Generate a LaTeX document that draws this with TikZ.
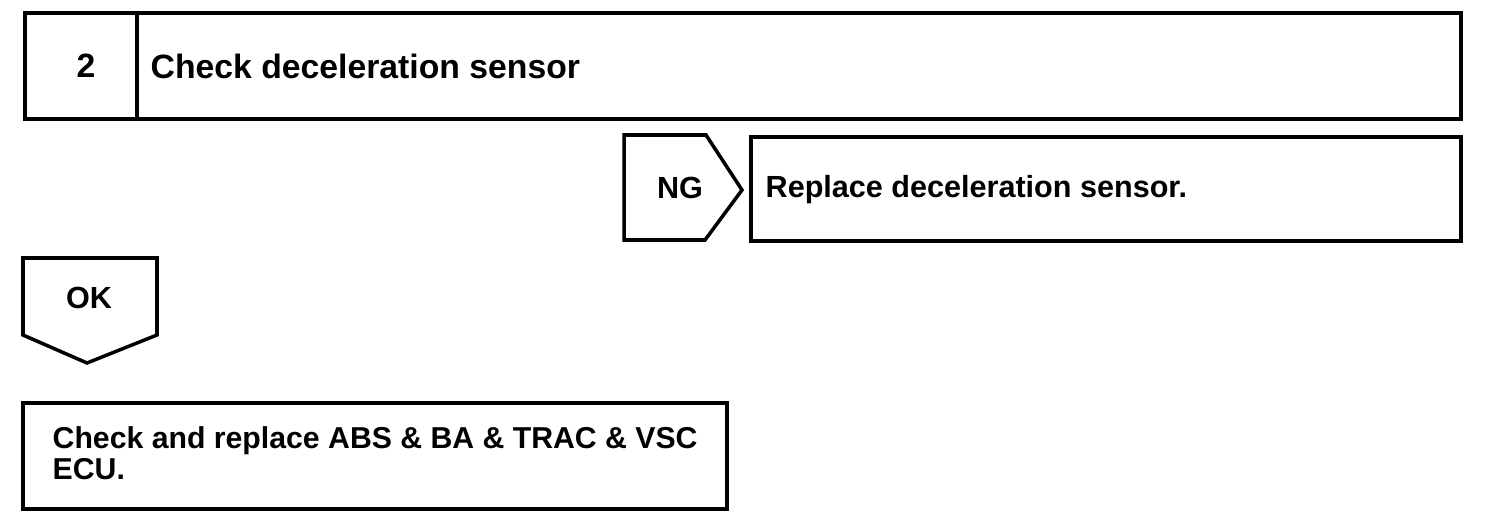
\documentclass[tikz,border=0pt]{standalone}
\usepackage{fontspec}
\setmainfont{Liberation Sans}
\usepackage{tikz}
\usetikzlibrary{positioning, calc}

\tikzset{
  frame/.style={draw, line width=1pt},
  lbl/.style={font=\bfseries\fontsize{8.7}{7.7}\selectfont, inner sep=0pt},
  txt/.style={lbl, anchor=west, align=left},
  big/.style={font=\bfseries\fontsize{9.6}{9.6}\selectfont}
}

\begin{document}
\begin{tikzpicture}
  \useasboundingbox (0,0) rectangle (15.04,5.22);

  % step header
  \draw[frame] (0.25,5.09) rectangle (14.61,4.03);
  \draw[frame] (1.37,5.09) -- (1.37,4.03);
  \node[lbl, big] (num) at (0.86,4.56) {2};
  \node[txt, big] (title) at (1.50,4.56) {Check deceleration sensor};

  % NG branch
  \draw[frame] (6.24,3.87) -- (7.06,3.87) -- (7.42,3.32)
               -- (7.05,2.82) -- (6.24,2.82) -- cycle;
  \node[lbl] (ng) at (6.80,3.34) {NG};
  \draw[frame] (7.51,3.85) rectangle (14.61,2.81);
  \node[txt] (repl) at (7.65,3.32) {Replace deceleration sensor.};

  % OK branch
  \draw[frame] (0.23,2.64) -- (1.57,2.64) -- (1.57,1.87)
               -- (0.87,1.59) -- (0.23,1.87) -- cycle;
  \node[lbl] (ok) at (0.89,2.24) {OK};
  \draw[frame] (0.23,1.19) rectangle (7.27,0.13);
  \node[txt, font=\bfseries\fontsize{8.6}{7.7}\selectfont] (ecu) at (0.52,0.69) {Check and replace ABS \& BA \& TRAC \& VSC\\ECU.};
\end{tikzpicture}
\end{document}
